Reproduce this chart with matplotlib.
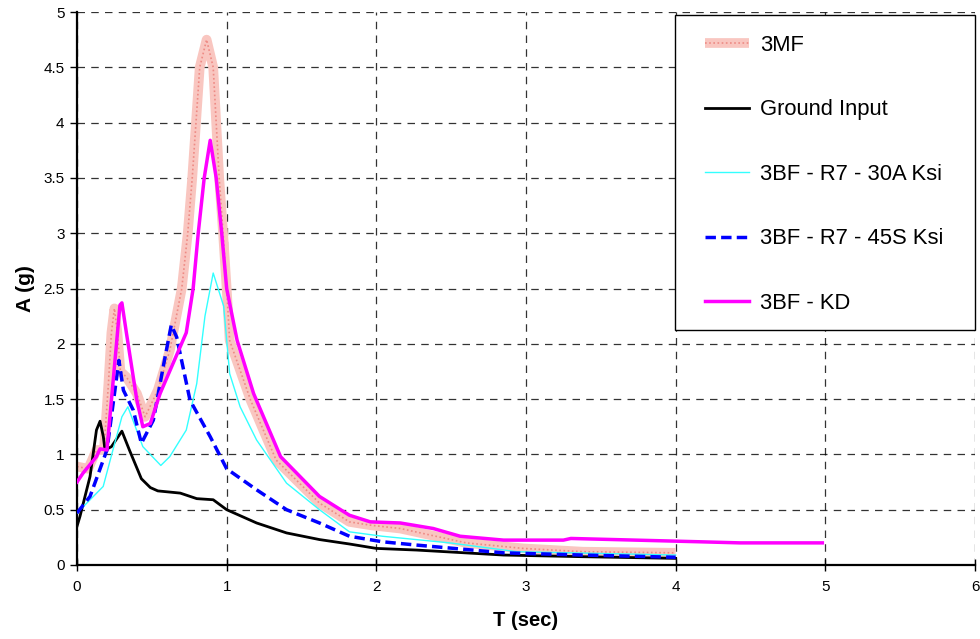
import matplotlib
matplotlib.use("Agg")
import matplotlib.pyplot as plt
from matplotlib.lines import Line2D
from matplotlib.patches import Rectangle

plt.rcParams['font.family'] = ['Liberation Sans', 'DejaVu Sans']

# ---- data ----
t_3mf = [0.0, 0.075, 0.13, 0.18, 0.21, 0.23, 0.25, 0.27, 0.29, 0.33, 0.40, 0.455, 0.54, 0.62,
         0.70, 0.74, 0.77, 0.795, 0.82, 0.866, 0.91, 0.93, 0.95, 0.976, 1.0, 1.02, 1.16, 1.33,
         1.62, 1.82, 1.96, 2.16, 2.6, 2.98, 3.38, 4.0]
a_3mf = [0.89, 0.87, 1.04, 1.04, 1.64, 2.10, 2.32, 2.1, 1.75, 1.70, 1.55, 1.34, 1.58, 1.94,
         2.50, 3.00, 3.50, 4.00, 4.50, 4.75, 4.50, 4.00, 3.50, 3.00, 2.50, 2.03, 1.49, 0.95,
         0.56, 0.39, 0.36, 0.33, 0.20, 0.15, 0.12, 0.11]

t_gnd = [0.0, 0.02, 0.087, 0.13, 0.154, 0.176, 0.187, 0.23, 0.30, 0.35, 0.43, 0.49, 0.54,
         0.69, 0.80, 0.91, 1.0, 1.2, 1.40, 1.62, 1.82, 2.0, 2.27, 2.85, 3.38, 4.0]
a_gnd = [0.35, 0.44, 0.80, 1.22, 1.30, 1.16, 1.04, 1.07, 1.21, 1.04, 0.78, 0.70, 0.67,
         0.65, 0.60, 0.59, 0.50, 0.38, 0.29, 0.23, 0.19, 0.15, 0.135, 0.09, 0.075, 0.06]

t_30a = [0.0, 0.175, 0.24, 0.30, 0.34, 0.44, 0.56, 0.62, 0.73, 0.80, 0.855, 0.91, 0.98, 1.02,
         1.09, 1.20, 1.40, 1.62, 1.82, 2.04, 2.49, 2.94, 4.0]
a_30a = [0.47, 0.71, 1.04, 1.34, 1.43, 1.07, 0.90, 0.98, 1.22, 1.64, 2.25, 2.64, 2.34, 1.73,
         1.43, 1.13, 0.74, 0.50, 0.30, 0.26, 0.20, 0.12, 0.09]

t_45s = [0.0, 0.087, 0.2, 0.28, 0.31, 0.376, 0.43, 0.51, 0.58, 0.63, 0.666, 0.755, 0.89, 1.0,
         1.2, 1.40, 1.62, 1.82, 2.04, 2.27, 2.85, 3.38, 4.0]
a_45s = [0.47, 0.62, 1.04, 1.85, 1.58, 1.40, 1.10, 1.31, 1.82, 2.17, 2.06, 1.49, 1.16, 0.87,
         0.68, 0.50, 0.38, 0.26, 0.21, 0.18, 0.11, 0.09, 0.07]

t_kd = [0.0, 0.04, 0.13, 0.154, 0.2, 0.24, 0.287, 0.30, 0.33, 0.40, 0.44, 0.49, 0.555, 0.73,
        0.776, 0.81, 0.85, 0.89, 0.93, 0.967, 1.0, 1.07, 1.18, 1.36, 1.62, 1.82, 1.96, 2.16,
        2.38, 2.56, 2.85, 3.25, 3.3, 4.16, 4.43, 4.98]
a_kd = [0.75, 0.83, 0.98, 1.05, 1.04, 1.64, 2.35, 2.37, 2.10, 1.49, 1.25, 1.28, 1.55, 2.10,
        2.50, 3.00, 3.50, 3.84, 3.50, 3.00, 2.50, 2.03, 1.55, 0.98, 0.62, 0.45, 0.39, 0.38,
        0.33, 0.26, 0.225, 0.225, 0.24, 0.21, 0.20, 0.20]

labels = ["3MF", "Ground Input", "3BF - R7 - 30A Ksi", "3BF - R7 - 45S Ksi", "3BF - KD"]
x_ticks = [0, 1, 2, 3, 4, 5, 6]
y_ticks = [0, 0.5, 1, 1.5, 2, 2.5, 3, 3.5, 4, 4.5, 5]
y_ticklabels = ["0", "0.5", "1", "1.5", "2", "2.5", "3", "3.5", "4", "4.5", "5"]

# ---- figure ----
fig = plt.figure(figsize=(9.8, 6.39), dpi=100)
ax = fig.add_axes([77/980, 1 - 565/639, (975-77)/980, (565-12)/639])

mf_band = dict(color='#f9c6c0', lw=7, solid_capstyle='butt')
mf_dots = dict(color='#ee8a84', lw=1.2, ls=(0, (1, 1.5)))
ax.plot(t_3mf, a_3mf, **mf_band, zorder=2)
ax.plot(t_3mf, a_3mf, **mf_dots, zorder=2.1)
ax.plot(t_gnd, a_gnd, color='black', lw=2.0, zorder=3)
ax.plot(t_30a, a_30a, color='#33ffff', lw=1.0, zorder=3)
ax.plot(t_45s, a_45s, color='#0000ff', lw=2.5, ls=(0, (3, 1.5)), zorder=3)
ax.plot(t_kd, a_kd, color='#ff00ff', lw=2.5, zorder=4)

ax.set_xlim(0, 6)
ax.set_ylim(0, 5)
ax.set_xticks(x_ticks)
ax.set_xticklabels([str(v) for v in x_ticks])
ax.set_yticks(y_ticks)
ax.set_yticklabels(y_ticklabels)
ax.tick_params(axis='y', direction='out', length=5, width=1, labelsize=11, pad=4)
ax.tick_params(axis='x', direction='inout', length=8, width=1, labelsize=11, pad=7)
ax.grid(True, color='black', ls=(0, (6, 5)), lw=0.9, alpha=0.8)
ax.set_axisbelow(True)
for s in ['top', 'right']:
    ax.spines[s].set_visible(False)
for s in ['left', 'bottom']:
    ax.spines[s].set_linewidth(1.6)

ax.set_xlabel("T (sec)", fontsize=14.5, fontweight='bold', labelpad=12)
ax.set_ylabel("A (g)", fontsize=15, fontweight='bold', labelpad=6)

# legend frame drawn explicitly
x0 = (675 - 77) / 898
y0 = (565 - 330) / 553
y1 = (565 - 15) / 553
ax.add_patch(Rectangle((x0, y0), 1.0 - x0, y1 - y0, transform=ax.transAxes,
                       facecolor='white', edgecolor='black', lw=1.0, zorder=5,
                       clip_on=False))

handles = [
    (Line2D([], [], **mf_band), Line2D([], [], **mf_dots)),
    Line2D([], [], color='black', lw=2.0),
    Line2D([], [], color='#33ffff', lw=1.0),
    Line2D([], [], color='#0000ff', lw=2.5, ls=(0, (3, 1.5))),
    Line2D([], [], color='#ff00ff', lw=2.5),
]
leg = ax.legend(handles, labels, loc='upper left',
                bbox_to_anchor=((705 - 77) / 898, (565 - 35) / 553),
                fontsize=15.8, frameon=False, handlelength=2.0, handletextpad=0.5,
                labelspacing=1.98, borderpad=0, borderaxespad=0)
leg.set_zorder(6)

fig.savefig("out.png", dpi=100)
